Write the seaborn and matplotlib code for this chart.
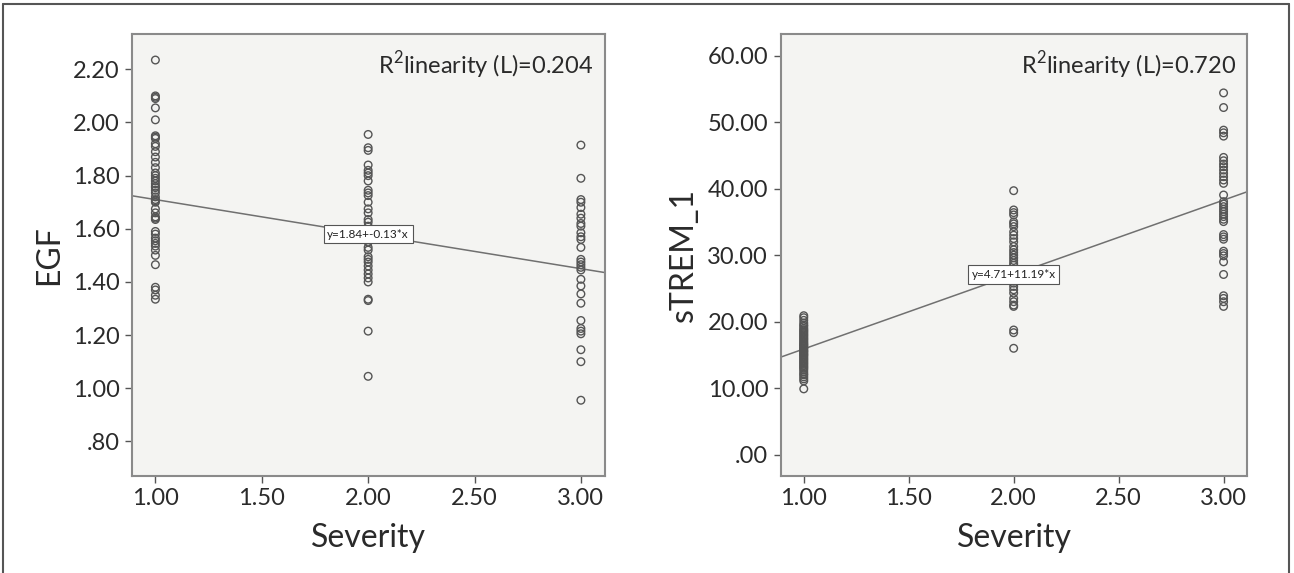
import numpy as np
import pandas as pd
import matplotlib
matplotlib.use("Agg")
import matplotlib.pyplot as plt
import seaborn as sns
from matplotlib.lines import Line2D

# EGF values per severity group
egf_sev1 = [2.235, 2.10, 2.095, 2.09, 2.055, 2.01, 1.95, 1.945, 1.94, 1.92, 1.91, 1.89,
            1.87, 1.85, 1.83, 1.81, 1.80, 1.79, 1.78, 1.77, 1.76, 1.755, 1.745, 1.735,
            1.72, 1.71, 1.705, 1.70, 1.675, 1.66, 1.645, 1.64, 1.635, 1.59, 1.58, 1.565,
            1.555, 1.545, 1.535, 1.52, 1.50, 1.465, 1.38, 1.37, 1.35, 1.335]
egf_sev2 = [1.955, 1.905, 1.895, 1.84, 1.82, 1.81, 1.80, 1.78, 1.745, 1.735, 1.725, 1.70,
            1.675, 1.66, 1.635, 1.625, 1.61, 1.595, 1.57, 1.56, 1.55, 1.53, 1.52, 1.495,
            1.485, 1.475, 1.46, 1.445, 1.43, 1.415, 1.40, 1.335, 1.33, 1.215, 1.045]
egf_sev3 = [1.915, 1.79, 1.71, 1.70, 1.68, 1.655, 1.64, 1.62, 1.61, 1.585, 1.57, 1.56,
            1.53, 1.485, 1.475, 1.465, 1.455, 1.445, 1.41, 1.385, 1.355, 1.32, 1.255,
            1.225, 1.215, 1.205, 1.145, 1.10, 0.955]

# sTREM_1 values per severity group
trem_sev1 = [20.9, 20.6, 20.2, 19.8, 19.5, 19.3, 19.0, 18.8, 18.6, 18.4, 18.2, 18.0,
             17.8, 17.6, 17.4, 17.2, 17.0, 16.8, 16.6, 16.5, 16.3, 16.1, 16.0, 15.8,
             15.6, 15.5, 15.3, 15.1, 15.0, 14.8, 14.6, 14.4, 14.2, 14.0, 13.8, 13.6,
             13.4, 13.2, 13.0, 12.8, 12.5, 12.2, 12.0, 11.7, 11.4, 11.1, 9.9]
trem_sev2 = [39.7, 36.8, 36.4, 36.05, 35.0, 34.7, 34.3, 33.5, 33.0, 32.5, 32.0, 31.3,
             30.8, 30.4, 30.0, 29.6, 29.2, 28.8, 28.5, 27.8, 27.3, 26.8, 26.3, 25.8,
             25.3, 24.8, 24.3, 23.5, 23.0, 22.5, 22.3, 18.75, 18.35, 16.0]
trem_sev3 = [54.4, 52.2, 48.8, 48.4, 47.9, 44.7, 44.2, 43.7, 43.3, 42.8, 42.3, 41.8,
             41.3, 40.8, 39.05, 38.05, 37.7, 37.3, 36.9, 36.55, 36.15, 35.8, 35.4,
             35.05, 33.1, 32.75, 32.4, 30.6, 30.25, 29.9, 29.0, 27.1, 23.9, 23.5,
             23.0, 22.3]

# fitted lines: intercept, slope, R2
egf_fit = (1.84, -0.13, 0.204)
trem_fit = (4.71, 11.19, 0.720)

x_ticks = [1.0, 1.5, 2.0, 2.5, 3.0]
egf_ticks = [0.8, 1.0, 1.2, 1.4, 1.6, 1.8, 2.0, 2.2]
trem_ticks = [0, 10, 20, 30, 40, 50, 60]


def make_df(groups, name):
    rows = []
    for sev, vals in zip([1.0, 2.0, 3.0], groups):
        for v in vals:
            rows.append({"Severity": sev, name: v})
    return pd.DataFrame(rows)


def fmt(v):
    s = f"{v:.2f}"
    return s[1:] if s.startswith("0.") else s


sns.set_style("white")
plt.rcParams["font.family"] = ["Lato", "DejaVu Sans"]
plt.rcParams["mathtext.fontset"] = "custom"
plt.rcParams["mathtext.rm"] = "Lato"

fig = plt.figure(figsize=(12.94, 5.73), dpi=100)
ax1 = fig.add_axes([0.1020, 0.1693, 0.3655, 0.7714])
ax2 = fig.add_axes([0.6033, 0.1693, 0.3606, 0.7714])

panels = [
    (ax1, make_df([egf_sev1, egf_sev2, egf_sev3], "EGF"), "EGF", egf_fit, egf_ticks, (0.670, 2.333)),
    (ax2, make_df([trem_sev1, trem_sev2, trem_sev3], "sTREM_1"), "sTREM_1", trem_fit, trem_ticks, (-3.2, 63.26)),
]

for ax, df, name, fit, yticks, ylim in panels:
    ax.set_facecolor("#f4f4f2")
    b0, b1, r2 = fit
    xlim = (0.89, 3.113)
    xs = np.array(xlim)
    sns.lineplot(x=xs, y=b0 + b1 * xs, ax=ax, color="#707070", lw=1.1, zorder=2)
    sns.scatterplot(data=df, x="Severity", y=name, ax=ax, marker="o", s=30,
                    facecolors="none", edgecolor="#555555", linewidth=1.0, zorder=3)
    ax.set_xlim(*xlim)
    ax.set_ylim(*ylim)
    ax.set_xticks(x_ticks)
    ax.set_xticklabels([fmt(t) for t in x_ticks])
    ax.set_yticks(yticks)
    ax.set_yticklabels([fmt(t) for t in yticks])
    ax.tick_params(axis="both", labelsize=17, length=5, width=1, color="#555555",
                   labelcolor="#2a2a2a", direction="out", pad=4)
    ax.tick_params(axis="both", which="both", bottom=True, left=True)
    ax.set_xlabel("Severity", fontsize=23, color="#2a2a2a", labelpad=10)
    ax.set_ylabel(name, fontsize=23, color="#2a2a2a", labelpad=6)
    for sp in ax.spines.values():
        sp.set_color("#8a8a8a")
        sp.set_linewidth(1.5)
    ax.text(0.975, 0.965, f"R$^{{\\mathrm{{2}}}}$linearity (L)={r2:.3f}", transform=ax.transAxes,
            ha="right", va="top", fontsize=17, color="#2a2a2a")
    ax.text(2.0, b0 + b1 * 2.0, f"y={b0:.2f}+{b1:.2f}*x", ha="center", va="center",
            fontsize=8.5, color="#222222", zorder=4,
            bbox=dict(boxstyle="square,pad=0.3", fc="white", ec="#555555", lw=0.8))

# outer frame
for xy in [([0.002, 0.002], [0.0, 0.993]), ([0.002, 0.996], [0.993, 0.993]), ([0.996, 0.996], [0.0, 0.993])]:
    fig.add_artist(Line2D(xy[0], xy[1], transform=fig.transFigure, color="#555555", lw=1.5))

fig.savefig("out.png", dpi=100)
